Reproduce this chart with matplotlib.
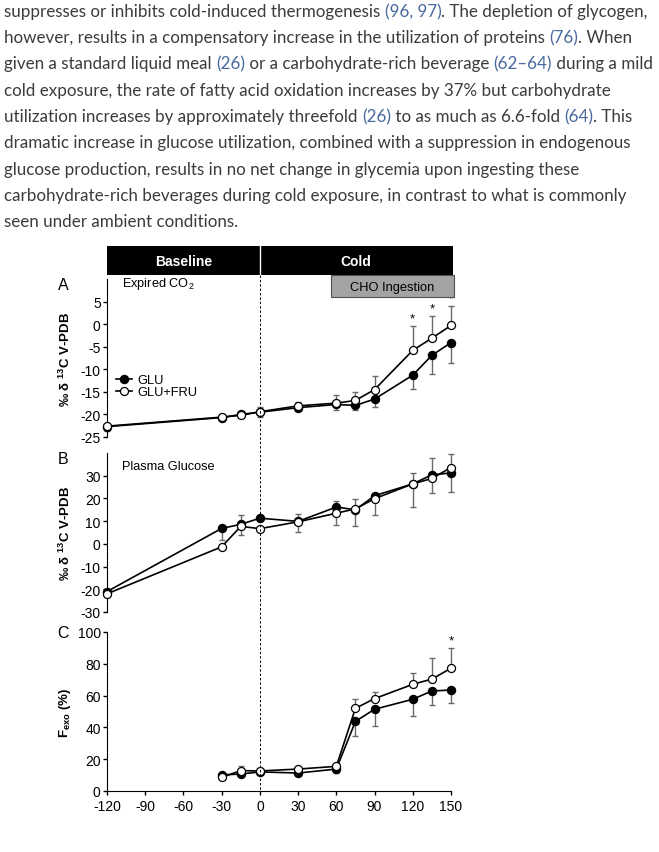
import numpy as np
import matplotlib
matplotlib.use('Agg')
import matplotlib.pyplot as plt
from matplotlib.patches import Rectangle
from matplotlib.lines import Line2D
import matplotlib.transforms as mtrans

plt.rcParams['font.family'] = 'Liberation Sans'
plt.rcParams['axes.unicode_minus'] = False
plt.rcParams['mathtext.fontset'] = 'custom'
plt.rcParams['mathtext.rm'] = 'Liberation Sans'
plt.rcParams['mathtext.bf'] = 'Liberation Sans:bold'
plt.rcParams['mathtext.it'] = 'Liberation Sans:italic'

######################################################################
# data

t = [-120, -30, -15, 0, 30, 60, 75, 90, 120, 135, 150]

# A: expired CO2
a_glu = [-22.7, -20.7, -20.0, -19.5, -18.5, -17.8, -18.0, -16.6, -11.3, -6.9, -4.1]
a_fru = [-22.6, -20.6, -20.2, -19.4, -18.1, -17.5, -16.9, -14.5, -5.8, -3.1, -0.3]
a_glu_lo = [1.0, 0.8, 0.6, 1.0, 0.6, 1.2, 1.0, 1.8, 3.1, 4.2, 4.6]
a_glu_hi = [0, 0, 0, 0, 0, 0, 0, 0, 0, 0, 0]
a_fru_lo = [0, 0, 0, 0, 0, 0, 0, 0, 0, 0, 0]
a_fru_hi = [0.5, 0.6, 0.7, 1.1, 0.8, 1.8, 1.9, 3.1, 5.4, 4.9, 4.3]
a_sig = [120, 135, 150]

# B: plasma glucose
b_glu = [-21.0, 6.8, 8.6, 11.3, 9.9, 16.2, 15.0, 21.2, 26.4, 30.4, 31.2]
b_fru = [-22.0, -1.3, 7.7, 6.7, 9.7, 13.5, 15.4, 19.9, 26.4, 28.8, 33.6]
b_glu_lo = [0, 4.9, 0, 0, 0, 0, 7.3, 0, 0, 0, 8.5]
b_glu_hi = [1.0, 0, 4.2, 0, 3.4, 2.6, 0, 0, 4.8, 7.3, 0]
b_fru_lo = [1.0, 0, 3.8, 0, 4.6, 5.2, 0, 7.3, 10.0, 6.6, 0]
b_fru_hi = [0, 0, 0, 0, 0, 0, 4.5, 0, 0, 0, 6.0]
b_sig = []

# C: Fexo
c_t = [-30, -15, 0, 30, 60, 75, 90, 120, 135, 150]
c_glu = [10.1, 10.7, 12.0, 11.3, 13.8, 43.8, 51.4, 57.7, 62.9, 63.5]
c_fru = [8.6, 12.8, 12.6, 13.8, 15.5, 52.0, 58.1, 67.1, 70.4, 77.2]
c_glu_lo = [0, 0, 0, 0, 2.7, 9.0, 10.3, 10.3, 8.8, 8.2]
c_glu_hi = [0, 0, 0, 0, 0, 0, 0, 0, 0, 0]
c_fru_lo = [0, 0, 0, 0, 0, 0, 0, 0, 0, 0]
c_fru_hi = [0, 3.1, 0, 0.8, 0, 5.9, 4.0, 7.1, 13.1, 12.7]
c_sig = [150]

xticks = [-120, -90, -60, -30, 0, 30, 60, 90, 120, 150]

para = [
    [("suppresses or inhibits cold-induced thermogenesis ", 0), ("(96, 97)", 1), (". The depletion of glycogen,", 0)],
    [("however, results in a compensatory increase in the utilization of proteins ", 0), ("(76)", 1), (". When", 0)],
    [("given a standard liquid meal ", 0), ("(26)", 1), (" or a carbohydrate-rich beverage ", 0), ("(62\u201364)", 1), (" during a mild", 0)],
    [("cold exposure, the rate of fatty acid oxidation increases by 37% but carbohydrate", 0)],
    [("utilization increases by approximately threefold ", 0), ("(26)", 1), (" to as much as 6.6-fold ", 0), ("(64)", 1), (". This", 0)],
    [("dramatic increase in glucose utilization, combined with a suppression in endogenous", 0)],
    [("glucose production, results in no net change in glycemia upon ingesting these", 0)],
    [("carbohydrate-rich beverages during cold exposure, in contrast to what is commonly", 0)],
    [("seen under ambient conditions.", 0)],
]

######################################################################

W, H = 659, 853
fig = plt.figure(figsize=(W/100, H/100), dpi=100)

def fy(py):
    return 1 - py/H

left = 107/W
width = 344/W
axA = fig.add_axes([left, fy(438), width, 158/H])
axB = fig.add_axes([left, fy(613), width, 159/H])
axC = fig.add_axes([left, fy(792), width, 159/H])

errc = '#6a6a6a'

def panel(ax, x, glu, fru, glo, ghi, flo, fhi, sig, ylim, yticks):
    x = np.array(x, float)
    for y, lo, hi in [(glu, glo, ghi), (fru, flo, fhi)]:
        y = np.array(y); lo = np.array(lo); hi = np.array(hi)
        m = (lo > 0) | (hi > 0)
        ax.errorbar(x[m], y[m], yerr=[lo[m], hi[m]], fmt='none', ecolor=errc,
                    elinewidth=1.0, capsize=2, capthick=1.0, zorder=2, clip_on=False)
    ax.plot(x, glu, '-o', color='black', lw=1.2, ms=5.8, mfc='black', mec='black',
            label='GLU', zorder=3, clip_on=False)
    ax.plot(x, fru, '-o', color='black', lw=1.2, ms=5.8, mfc='white', mec='black',
            mew=0.9, label='GLU+FRU', zorder=4, clip_on=False)
    for s in sig:
        i = list(x).index(s)
        top = fru[i] + fhi[i]
        ax.annotate('*', (s, top), xytext=(0, 1), textcoords='offset points',
                    ha='center', va='bottom', fontsize=9.5)
    ax.set_xlim(-120, 150)
    ax.set_ylim(*ylim)
    ax.set_yticks(yticks)
    ax.spines['top'].set_visible(False)
    ax.spines['right'].set_visible(False)
    ax.tick_params(axis='both', direction='out', length=3, width=1, labelsize=10, pad=1.5)
    ax.patch.set_alpha(0)

panel(axA, t, a_glu, a_fru, a_glu_lo, a_glu_hi, a_fru_lo, a_fru_hi, a_sig, (-25, 10), range(-25, 6, 5))
panel(axB, t, b_glu, b_fru, b_glu_lo, b_glu_hi, b_fru_lo, b_fru_hi, b_sig, (-30, 40), range(-30, 31, 10))
panel(axC, c_t, c_glu, c_fru, c_glu_lo, c_glu_hi, c_fru_lo, c_fru_hi, c_sig, (0, 100), range(0, 101, 20))

for ax in (axA, axB):
    ax.spines['bottom'].set_visible(False)
    ax.set_xticks([])
axC.set_xticks(xticks)
axC.tick_params(axis='x', pad=2.5)

ylab = '\u2030 \u03b4 $^{\\mathbf{13}}$C V-PDB'
axA.set_ylabel(ylab, fontsize=9.5, fontweight='bold')
axB.set_ylabel(ylab, fontsize=9.5, fontweight='bold')
axC.set_ylabel('F$_{\\mathbf{exo}}$ (%)', fontsize=9.5, fontweight='bold')
for ax in (axA, axB, axC):
    ax.yaxis.set_label_coords(-0.1, 0.5)

axA.legend(loc='center left', bbox_to_anchor=(0.025, 0.32), frameon=False,
           fontsize=9.3, handlelength=1.3, handletextpad=0.4, labelspacing=0.0,
           borderpad=0, borderaxespad=0)

axA.text(122/W, fy(284), 'Expired CO$_2$', transform=fig.transFigure, fontsize=9.2, va='center')
axB.text(122/W, fy(467), 'Plasma Glucose', transform=fig.transFigure, fontsize=9.2, va='center')

for lab, py in [('A', 285), ('B', 460), ('C', 634)]:
    fig.text(63/W, fy(py), lab, fontsize=11.5, ha='center', va='center')

# header bars
tr = mtrans.blended_transform_factory(axA.transData, fig.transFigure)
fig.patches.append(Rectangle((-120, fy(276)), 271.5, (276-247)/H, transform=tr,
                             facecolor='black', edgecolor='none'))
fig.lines.append(Line2D([0, 0], [fy(276), fy(247)], transform=tr, color='white', lw=1))
fig.text(-60, fy(262), 'Baseline', transform=tr, color='white', fontsize=10,
         fontweight='bold', ha='center', va='center')
fig.text(75, fy(262), 'Cold', transform=tr, color='white', fontsize=10,
         fontweight='bold', ha='center', va='center')
fig.patches.append(Rectangle((55.7, fy(298)), 96.3, (298-276)/H, transform=tr,
                             facecolor='#a3a3a3', edgecolor='#505050', lw=0.8))
fig.text(103.8, fy(287.5), 'CHO Ingestion', transform=tr, color='black', fontsize=9.3,
         ha='center', va='center')

# dashed time-zero line through all panels
fig.lines.append(Line2D([0, 0], [fy(276), fy(792)], transform=tr, color='black',
                        lw=0.7, ls=(0, (2.5, 2))))

######################################################################
# paragraph text above the chart

fig.canvas.draw()
r = fig.canvas.get_renderer()
pfont = 'Lato'

def textw(s, fs):
    tt = fig.text(0, 0, s, fontsize=fs, family=pfont)
    w = tt.get_window_extent(renderer=r).width
    tt.remove()
    return w

full3 = ''.join(s for s, b in para[2])
fs = 11.0 * 648 / textw(full3, 11.0)
xw = textw('x', fs)

for i, segs in enumerate(para):
    py = 12 + i * 26.25
    prefix = ''
    for s, blue in segs:
        off = textw(prefix + 'x', fs) - xw if prefix else 0
        fig.text((4 + off)/W, fy(py), s, fontsize=fs, family=pfont, va='center',
                 ha='left', color='#4a6a9e' if blue else '#3c3c3c')
        prefix += s

fig.savefig('out.png', dpi=100)
